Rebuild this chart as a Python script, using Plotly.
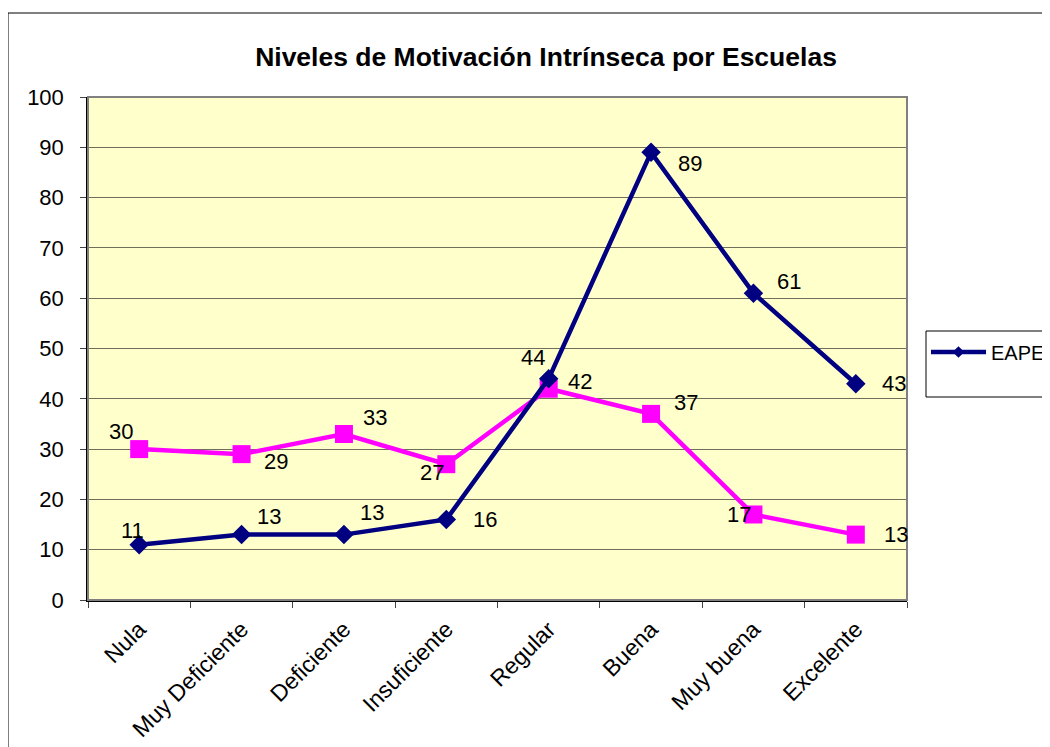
import plotly.graph_objects as go

categorias = ["Nula", "Muy Deficiente", "Deficiente", "Insuficiente",
              "Regular", "Buena", "Muy buena", "Excelente"]
eape = [11, 13, 13, 16, 44, 89, 61, 43]
serie2 = [30, 29, 33, 27, 42, 37, 17, 13]

# desplazamiento (px) de cada etiqueta respecto a su punto, como en el original
off_eape = [(-7, 14), (27, 18), (28, 22), (39, 0),
            (-16, 21), (39, -11), (36, 12), (38, 0)]
off_s2 = [(-18, 18), (34, -7), (31, 17), (-14, -8),
          (31, 7), (35, 11), (-14, 0), (40, 0)]

FONT = "Liberation Sans, Arial, sans-serif"
AZUL, ROSA = "#000080", "#FF00FF"

fig = go.Figure()
fig.add_trace(go.Scatter(
    x=categorias, y=serie2, name="", showlegend=False, mode="lines+markers",
    line=dict(color=ROSA, width=4.5),
    marker=dict(symbol="square", size=18, color=ROSA),
))
fig.add_trace(go.Scatter(
    x=categorias, y=eape, name="EAPE", showlegend=False, mode="lines+markers",
    line=dict(color=AZUL, width=4.5),
    marker=dict(symbol="diamond", size=15, color=AZUL),
))
# entrada de leyenda con marcador pequeño, como en Excel
fig.add_trace(go.Scatter(
    x=[None], y=[None], name="EAPE", mode="lines+markers",
    line=dict(color=AZUL, width=4.5),
    marker=dict(symbol="diamond", size=9, color=AZUL),
))

anots = []
for vals, offs in ((eape, off_eape), (serie2, off_s2)):
    for c, v, (dx, dy) in zip(categorias, vals, offs):
        anots.append(dict(x=c, y=v, text=str(v), showarrow=False,
                          xshift=dx, yshift=dy, font=dict(size=22, color="black")))

# pagina con margen de 8px en el body
W, H = 1042, 739
L, R, T, B = 80, 899, 89, 592
px = lambda x: (x - 8 - L) / (R - L)
py = lambda y: (B - (y - 8)) / (B - T)

fig.update_layout(
    width=W, height=H,
    margin=dict(l=L, r=W - R, t=T, b=H - B, autoexpand=False),
    paper_bgcolor="white", plot_bgcolor="#FFFFCC",
    font=dict(family=FONT, size=22, color="black"),
    title=dict(text="<b>Niveles de Motivación Intrínseca por Escuelas</b>",
               x=px(546), xref="paper", xanchor="center",
               y=1 - (57 - 8) / H, yanchor="middle", font=dict(size=26.5)),
    legend=dict(xref="container", yref="container",
                x=(926 - 8) / W, y=1 - (352 - 8) / H,
                xanchor="left", yanchor="middle",
                itemwidth=55, bgcolor="rgba(0,0,0,0)", font=dict(size=20)),
    annotations=anots,
    shapes=[
        dict(type="rect", xref="paper", yref="paper", x0=0, x1=1, y0=0, y1=1,
             line=dict(color="#808080", width=2), layer="above"),
        dict(type="rect", xref="paper", yref="paper",
             x0=px(926), x1=px(1070), y0=py(397), y1=py(331),
             line=dict(color="black", width=1)),
        dict(type="line", xref="paper", yref="paper",
             x0=px(8), x1=px(8), y0=py(13), y1=py(770),
             line=dict(color="black", width=1)),
        dict(type="line", xref="paper", yref="paper",
             x0=px(8), x1=px(1070), y0=py(13), y1=py(13),
             line=dict(color="black", width=1)),
    ],
)
fig.update_xaxes(
    range=[-0.5, 7.5], tickson="boundaries", ticks="outside", ticklen=6,
    tickangle=-45, tickfont=dict(size=23), ticklabelstandoff=5, showgrid=False,
    showline=True, linecolor="black", linewidth=1.5, automargin=False,
)
fig.update_yaxes(
    range=[0, 100], dtick=10, ticks="outside", ticklen=6, ticklabelstandoff=12,
    tickfont=dict(size=22), showgrid=True, gridcolor="#6e6e5a", gridwidth=1,
    showline=True, linecolor="black", linewidth=1.5, zeroline=False,
    automargin=False,
)

fig.write_html("out.html")
